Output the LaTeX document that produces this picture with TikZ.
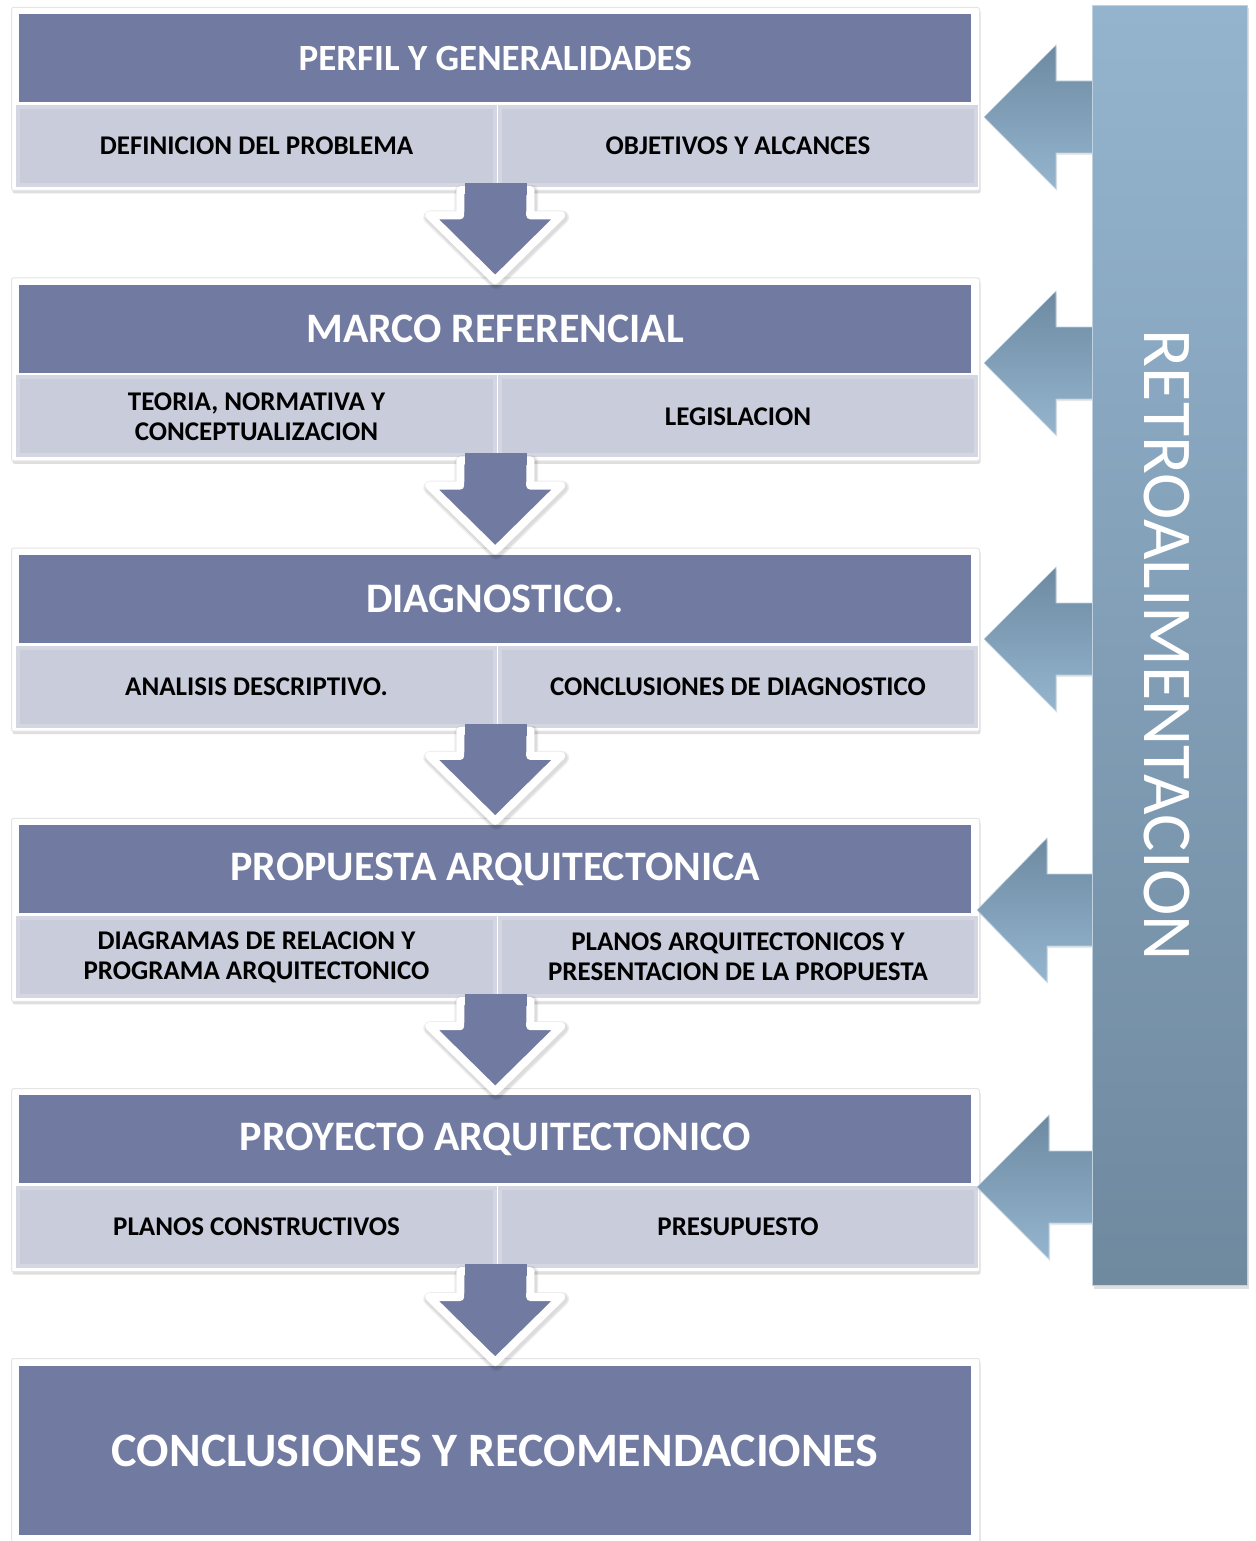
\documentclass[tikz,border=0pt]{standalone}
\usepackage{fontspec}
\setmainfont{Carlito}
\usetikzlibrary{calc,shadows}

\definecolor{hdr}{HTML}{717AA0}
\definecolor{subfill}{HTML}{C9CCDA}
\definecolor{subedge}{HTML}{D4D6E1}
\definecolor{fbtop}{HTML}{6D8AA1}
\definecolor{fbbot}{HTML}{95B5CF}
\definecolor{bartop}{HTML}{94B4CE}
\definecolor{barbot}{HTML}{6F899F}

\tikzset{
  frame/.style={draw=black!10, fill=white, rounded corners=2pt, line width=1pt,
    anchor=north west, inner sep=0pt,
    drop shadow={shadow xshift=1pt, shadow yshift=-3pt, opacity=0.25}},
  header/.style={fill=hdr, anchor=north west, inner sep=0pt, text=white},
  subcell/.style={fill=subfill, draw=subedge, line width=4pt, anchor=north west,
    inner sep=0pt, align=center, text=black,
    font=\fontsize{27}{30}\bfseries\selectfont},
  blockshade/.style={draw=black, fill=black, line join=round, opacity=0.07},
  blockdown/.style={fill=hdr, draw=white, line width=8pt, line join=round},
  blockleft/.style={top color=fbtop, bottom color=fbbot, draw=fbbot!60!white,
    line width=0.6pt,
    drop shadow={shadow xshift=1pt, shadow yshift=-2pt, opacity=0.18}},
  feedbar/.style={top color=bartop, bottom color=barbot, draw=bartop!60!white,
    line width=1pt, anchor=north west, inner sep=0pt,
    drop shadow={shadow xshift=1pt, shadow yshift=-3pt, opacity=0.25}},
}

% one stage: #1 id, #2 top of header, #3 title size, #4 title, #5 left cell, #6 right cell
\newcommand\stagebox[6]{%
  \node[frame, minimum width=968pt, minimum height=183pt] (f#1) at (11,#2-7) {};
  \node[header, minimum width=952pt, minimum height=88pt,
        font=\fontsize{#3}{#3}\bfseries\selectfont] (h#1) at (19,#2) {#4};
  \node[subcell, minimum width=477pt, minimum height=78pt] (l#1) at (16,#2+91) {#5};
  \node[subcell, minimum width=476pt, minimum height=78pt] (r#1) at (498,#2+91) {#6};
}

% outline of a block arrow from the bottom of frame #1 to the top of header #2
\newcommand\downpath[2]{%
  ($(#1.south)+(-35,-1)$) -- ($(#2.north)+(-35,-69)$)
  -- ($(#2.north)+(-66,-69)$) -- ($(#2.north)+(0,-4)$)
  -- ($(#2.north)+(66,-69)$) -- ($(#2.north)+(35,-69)$)
  -- ($(#1.south)+(35,-1)$) -- cycle}

\newcommand\downstep[2]{%
  \begin{scope}[transform canvas={shift={(1pt,-2pt)}}]
    \path[blockshade, line width=14pt] \downpath{#1}{#2};
    \path[blockshade, line width=11pt] \downpath{#1}{#2};
  \end{scope}
  \path[blockdown] \downpath{#1}{#2};
  % the shaft runs on up into the cell row, without its white rim
  \fill[hdr] ($(#1.south)+(-31,-8)$) rectangle ($(#1.south)+(31,4)$);
}

% feedback arrow leaving the bar, tip at coordinate #1, head length #2
\newcommand\backstep[2]{%
  \path[blockleft]
    (#1) -- ($(#1)+(#2,-72)$) -- ($(#1)+(#2,-36)$)
    -- ($(bar.west |- #1)+(2,-36)$) -- ($(bar.west |- #1)+(2,36)$)
    -- ($(#1)+(#2,36)$) -- ($(#1)+(#2,72)$) -- cycle;
}

\begin{document}
\begin{tikzpicture}[x=1pt, y=-1pt]
  \useasboundingbox[fill=white] (0,0) rectangle (1255,1541);

  \stagebox{1}{14}{37}{PERFIL Y GENERALIDADES}
    {DEFINICION DEL PROBLEMA}{OBJETIVOS Y ALCANCES}
  \stagebox{2}{284.3}{42}{MARCO REFERENCIAL}
    {TEORIA, NORMATIVA Y\\CONCEPTUALIZACION}{LEGISLACION}
  \stagebox{3}{554.6}{42}{DIAGNOSTICO{\mdseries.}}
    {ANALISIS DESCRIPTIVO.}{CONCLUSIONES DE DIAGNOSTICO}
  \stagebox{4}{824.9}{42}{PROPUESTA ARQUITECTONICA}
    {DIAGRAMAS DE RELACION Y\\PROGRAMA ARQUITECTONICO}
    {PLANOS ARQUITECTONICOS Y\\PRESENTACION DE LA PROPUESTA}
  \stagebox{5}{1095.2}{42}{PROYECTO ARQUITECTONICO}
    {PLANOS CONSTRUCTIVOS}{PRESUPUESTO}

  % closing stage
  \node[frame, minimum width=968pt, minimum height=200pt] (f6) at (11,1358) {};
  \node[header, minimum width=952pt, minimum height=169pt,
        font=\fontsize{48}{48}\bfseries\selectfont] (h6) at (19,1366)
        {CONCLUSIONES Y RECOMENDACIONES};

  % flow between stages
  \downstep{f1}{h2}
  \downstep{f2}{h3}
  \downstep{f3}{h4}
  \downstep{f4}{h5}
  \downstep{f5}{h6}

  % feedback column
  \coordinate (t1) at (984,117);
  \coordinate (t2) at (984,363);
  \coordinate (t3) at (984,639);
  \coordinate (t4) at (977,910);
  \coordinate (t5) at (977,1187);
  \coordinate (barnw) at (1092,5);
  \node[inner sep=0pt, minimum width=155pt, minimum height=1280pt, anchor=north west]
    (bar) at (barnw) {};
  \backstep{t1}{72}
  \backstep{t2}{72}
  \backstep{t3}{72}
  \backstep{t4}{70}
  \backstep{t5}{72}
  \node[feedbar, minimum width=155pt, minimum height=1280pt] (barfill) at (barnw) {};
  \node[rotate=-90, text=white, inner sep=0pt,
        font=\fontsize{70}{70}\selectfont] (retro) at ($(barfill.center)+(-3,0)$)
        {RETROALIMENTACION};
\end{tikzpicture}
\end{document}
